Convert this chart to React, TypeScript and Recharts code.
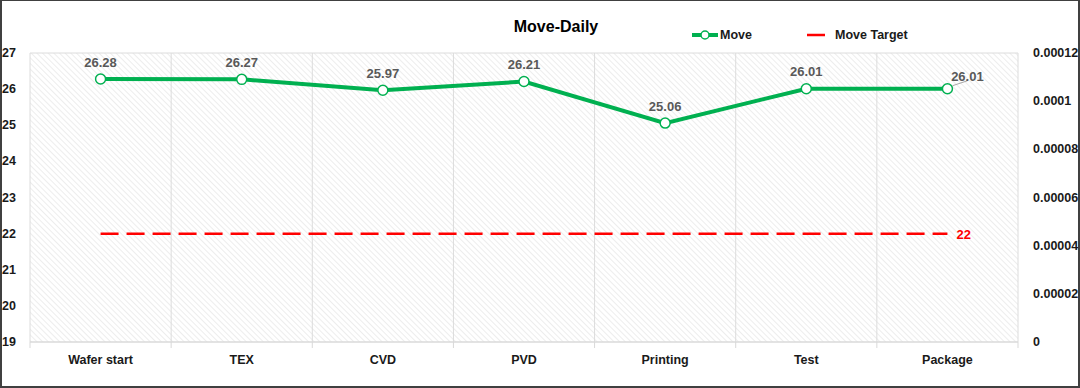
import React from 'react';
import { ComposedChart, Line, XAxis, YAxis, CartesianGrid, LabelList } from 'recharts';

const categories = ['Wafer start', 'TEX', 'CVD', 'PVD', 'Printing', 'Test', 'Package'];
const moveValues = [26.28, 26.27, 25.97, 26.21, 25.06, 26.01, 26.01];
const targetValues = [22, 22, 22, 22, 22, 22, 22];
const leftTicks = [19, 20, 21, 22, 23, 24, 25, 26, 27];
const rightTicks = [0, 0.00002, 0.00004, 0.00006, 0.00008, 0.0001, 0.00012];
const rightTickLabels = ['0', '0.00002', '0.00004', '0.00006', '0.00008', '0.0001', '0.00012'];

const data = categories.map((c, i) => ({ name: c, move: moveValues[i], target: targetValues[i] }));

const FONT = '"Liberation Sans", Arial, sans-serif';
const W = 1080;
const H = 388;
const PLOT_LEFT = 30;
const PLOT_RIGHT_AXIS = 62;
const PLOT_W = W - PLOT_LEFT - PLOT_RIGHT_AXIS;
const BAND = PLOT_W / categories.length;

const LeftTick = (props: any) => {
  const { y, payload } = props;
  return (
    <text x={2} y={y} dominantBaseline="central" textAnchor="start" fontFamily={FONT} fontWeight="bold" fontSize={12.5} fill="#1a1a1a">
      {payload.value}
    </text>
  );
};

const RightTick = (props: any) => {
  const { y, payload } = props;
  const idx = rightTicks.indexOf(payload.value);
  const label = idx >= 0 ? rightTickLabels[idx] : String(payload.value);
  return (
    <text x={1033} y={y} dominantBaseline="central" textAnchor="start" fontFamily={FONT} fontWeight="bold" fontSize={12.5} fill="#1a1a1a">
      {label}
    </text>
  );
};

const XTick = (props: any) => {
  const { x, y, payload, index } = props;
  const left = x - BAND / 2;
  const right = x + BAND / 2;
  return (
    <g>
      <line x1={left} y1={y - 8} x2={left} y2={y - 2} stroke="#d9d9d9" strokeWidth={1} />
      {index === categories.length - 1 && (
        <line x1={right} y1={y - 8} x2={right} y2={y - 2} stroke="#d9d9d9" strokeWidth={1} />
      )}
      <text x={x} y={y + 10} textAnchor="middle" dominantBaseline="central" fontFamily={FONT} fontWeight="bold" fontSize={12.5} fill="#1a1a1a">
        {payload.value}
      </text>
    </g>
  );
};

const MoveLabel = (props: any) => {
  const { x, y, value, index } = props;
  if (index === categories.length - 1) {
    return (
      <g>
        <line x1={x + 5} y1={y - 3} x2={x + 20} y2={y - 8} stroke="#a6a6a6" strokeWidth={1} />
        <text x={x + 20} y={y - 12} textAnchor="middle" dominantBaseline="central" fontFamily={FONT} fontWeight="bold" fontSize={13} fill="#595959">
          {value.toFixed(2)}
        </text>
      </g>
    );
  }
  return (
    <text x={x} y={y - 17} textAnchor="middle" dominantBaseline="central" fontFamily={FONT} fontWeight="bold" fontSize={13} fill="#595959">
      {value.toFixed(2)}
    </text>
  );
};

const TargetLabel = (props: any) => {
  const { x, y, value, index } = props;
  if (index !== categories.length - 1) return null;
  return (
    <text x={x + 9} y={y + 1} textAnchor="start" dominantBaseline="central" fontFamily={FONT} fontWeight="bold" fontSize={13} fill="#ff0000">
      {value}
    </text>
  );
};

export default function App() {
  return (
    <div style={{ position: 'absolute', left: 0, top: 0, width: W, height: H, background: '#fff' }}>
      <ComposedChart width={W} height={H} data={data} margin={{ top: 53, right: 0, bottom: 0, left: 0 }}>
        <defs>
          <pattern id="hatch" patternUnits="userSpaceOnUse" width="4" height="4" patternTransform="rotate(-45)">
            <rect width="4" height="4" fill="#ffffff" />
            <line x1="0" y1="0" x2="0" y2="4" stroke="#dedede" strokeWidth="1.1" />
          </pattern>
        </defs>
        <CartesianGrid
          fill="url(#hatch)"
          stroke="#dcdcdc"
          strokeWidth={1}
          verticalCoordinatesGenerator={({ offset }: any) =>
            Array.from({ length: categories.length + 1 }, (_, i) => offset.left + (i * offset.width) / categories.length)
          }
        />
        <XAxis
          dataKey="name"
          scale="band"
          height={46}
          tickLine={false}
          axisLine={{ stroke: '#d9d9d9' }}
          tick={<XTick />}
          interval={0}
        />
        <YAxis
          yAxisId="left"
          width={PLOT_LEFT}
          domain={[19, 27]}
          ticks={leftTicks}
          tickLine={false}
          axisLine={false}
          tick={<LeftTick />}
          interval={0}
        />
        <YAxis
          yAxisId="right"
          orientation="right"
          width={PLOT_RIGHT_AXIS}
          domain={[0, 0.00012]}
          ticks={rightTicks}
          tickLine={false}
          axisLine={false}
          tick={<RightTick />}
          interval={0}
          allowDataOverflow
        />
        <Line
          yAxisId="right"
          dataKey="rightPlaceholder"
          stroke="none"
          dot={false}
          activeDot={false}
          legendType="none"
          isAnimationActive={false}
        />
        <Line
          yAxisId="left"
          dataKey="target"
          stroke="#ff0000"
          strokeWidth={2.5}
          strokeDasharray="18 8"
          dot={false}
          isAnimationActive={false}
        >
          <LabelList dataKey="target" content={<TargetLabel />} />
        </Line>
        <Line
          yAxisId="left"
          dataKey="move"
          stroke="#00b050"
          strokeWidth={4}
          dot={{ r: 5, fill: '#ffffff', stroke: '#00b050', strokeWidth: 1.5 }}
          isAnimationActive={false}
        >
          <LabelList dataKey="move" content={<MoveLabel />} />
        </Line>
      </ComposedChart>

      <div style={{ position: 'absolute', left: 0, top: 17, width: 1112, textAlign: 'center', fontFamily: FONT, fontWeight: 'bold', fontSize: 16, color: '#000', lineHeight: '20px' }}>
        Move-Daily
      </div>
      <svg style={{ position: 'absolute', left: 680, top: 24 }} width={240} height={22}>
        <line x1={12} y1={11} x2={38} y2={11} stroke="#00b050" strokeWidth={4} />
        <circle cx={25} cy={11} r={4} fill="#fff" stroke="#00b050" strokeWidth={1.5} />
        <text x={40} y={11} dominantBaseline="central" fontFamily={FONT} fontWeight="bold" fontSize={12.5} fill="#1a1a1a">Move</text>
        <line x1={127} y1={11} x2={145} y2={11} stroke="#ff0000" strokeWidth={2.5} />
        <text x={155} y={11} dominantBaseline="central" fontFamily={FONT} fontWeight="bold" fontSize={12.5} fill="#1a1a1a">Move Target</text>
      </svg>
      <div style={{ position: 'absolute', left: 0, top: 0, width: W, height: H, boxSizing: 'border-box', borderTop: '1px solid #404040', borderLeft: '2px solid #404040', borderRight: '2px solid #404040', borderBottom: '2px solid #404040', pointerEvents: 'none' }} />
    </div>
  );
}
